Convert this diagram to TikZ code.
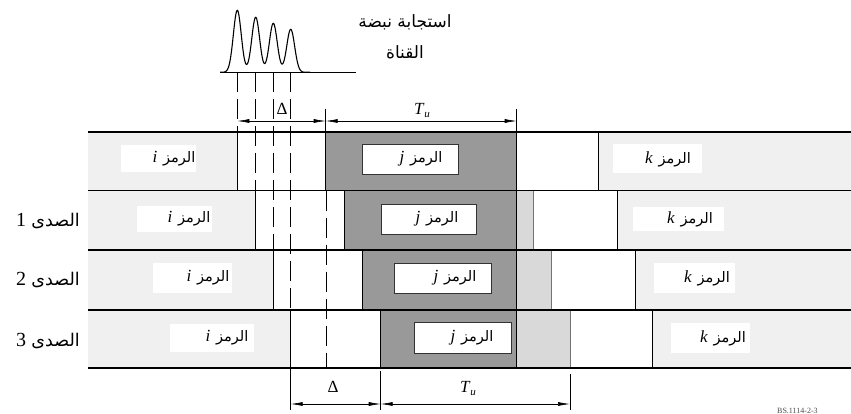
\documentclass[tikz,border=0pt]{standalone}
\usepackage{fontspec}
\setmainfont{Liberation Serif}
\newfontfamily\arabicfont[Script=Arabic]{DejaVu Sans}
\TeXXeTstate=1
\usetikzlibrary{arrows.meta}
\definecolor{lg}{HTML}{F0F0F0}
\definecolor{dg}{HTML}{999999}
\definecolor{mg}{HTML}{D9D9D9}
\tikzset{
  rowline/.style={line width=1.2pt,black},
  bound/.style={line width=0.7pt,black},
  gbound/.style={line width=0.7pt,black!55},
  dashv/.style={line width=0.7pt,dash pattern=on 20pt off 7pt},
  ext/.style={line width=0.6pt},
  dim/.style={line width=0.6pt,{Latex[length=12pt,width=4pt]}-{Latex[length=12pt,width=4pt]}},
  wbox/.style={fill=white,draw=none,inner sep=0pt},
  jbox/.style={fill=white,draw=black!80,line width=0.8pt,inner sep=0pt},
  lbl/.style={inner sep=0pt,font=\fontsize{14.5}{16}\selectfont},
  echo/.style={inner sep=0pt,font=\fontsize{17.5}{20}\selectfont},
  dimlbl/.style={inner sep=0pt,font=\fontsize{17}{18}\selectfont}
}
\newcommand{\ar}[1]{{\arabicfont\beginR #1\endR}}
\newcommand{\sym}[1]{{\fontsize{17}{18}\selectfont\textit{#1}}}
\newcommand{\tu}{\textit{T}\raisebox{-3pt}{\fontsize{11}{11}\selectfont\textit{u}}}
\begin{document}
\begin{tikzpicture}[x=1pt,y=-1pt]
\useasboundingbox (0,0) rectangle (851,414);
% rows
\foreach \r/\t/\b/\ie/\js/\me/\ks in {0/132/190.7/237.3/325.7/516.7/598.3,1/190.7/250/255.7/344/533.3/617.3,2/250/310/273.3/362.3/551.7/635.7,3/310/368/290.7/380.7/570/652.7}{
  \fill[lg] (88,\t) rectangle (\ie,\b);
  \fill[dg] (\js,\t) rectangle (516.7,\b);
  \fill[mg] (516.7,\t) rectangle (\me,\b);
  \fill[lg] (\ks,\t) rectangle (851,\b);
  \draw[bound] (\ie,\t) -- (\ie,\b);
  \draw[bound] (\js,\t) -- (\js,\b);
  \draw[gbound] (\me,\t) -- (\me,\b);
  \draw[bound] (\ks,\t) -- (\ks,\b);
}
\draw[line width=1pt] (516.7,109) -- (516.7,368);
% dashed echo lines
\draw[dashv] (237.3,72) -- (237.3,132);
\draw[dashv] (255.7,72) -- (255.7,190.7);
\draw[dashv] (273.3,72) -- (273.3,250);
\draw[dashv] (290.7,72) -- (290.7,310);
\draw[dashv] (326.7,190.7) -- (326.7,368);
% row lines
\foreach \y in {132,190.7,250,310,368}{\draw[rowline] (88,\y) -- (851,\y);}
% boxes and labels
\foreach \r/\yc/\ic/\iw/\ih/\it/\jc/\jw/\jh/\jt/\kc/\kw/\kh/\kt in {
  0/159/158.5/75/27/174/410/96/30/421/657.5/89/29/668,
  1/219/174.5/75/25/189/428.5/95/30/437/678.5/91/24/690,
  2/278/192.5/79/30/208/442.5/97/30/455/694.5/81/30/707,
  3/338/212/84/28/227/463.3/97/31/472/710.3/79/30/723}{
  \node[wbox,minimum width=\iw,minimum height=\ih] (bi\r) at (\ic,\yc) {};
  \node[lbl] (ti\r) at (\it,\yc) {\sym{i}\hspace{0.4em}\ar{الرمز}};
  \node[jbox,minimum width=\jw,minimum height=\jh] (bj\r) at (\jc,\yc) {};
  \node[lbl] (tj\r) at (\jt,\yc) {\sym{j}\hspace{0.4em}\ar{الرمز}};
  \node[wbox,minimum width=\kw,minimum height=\kh] (bk\r) at (\kc,\yc) {};
  \node[lbl] (tk\r) at (\kt,\yc) {\sym{k}\hspace{0.4em}\ar{الرمز}};
}
% echo labels
\node[echo] (e1) at (48,221) {{\fontsize{20}{20}\selectfont 1}\hspace{0.3em}\ar{الصدى}};
\node[echo] (e2) at (48,280) {{\fontsize{20}{20}\selectfont 2}\hspace{0.3em}\ar{الصدى}};
\node[echo] (e3) at (48,341) {{\fontsize{20}{20}\selectfont 3}\hspace{0.3em}\ar{الصدى}};
% pulse response
\draw[line width=1pt] (220,72.3) -- (356,72.3);
\draw[line width=1.1pt] plot[domain=220:310,samples=220,smooth] (\x,{72.3
  -62*exp(-min(30,((\x-237.3)/5.6)^2))
  -55*exp(-min(30,((\x-255.7)/5.6)^2))
  -49*exp(-min(30,((\x-273.3)/5.6)^2))
  -43*exp(-min(30,((\x-290.7)/5.6)^2))});
\node[inner sep=0pt,align=center,font=\fontsize{17}{31}\selectfont] (title) at (405,37) {\ar{استجابة نبضة}\\\ar{القناة}};
% top dimensions
\coordinate (ta) at (237.3,121);
\coordinate (tb) at (325.7,121);
\coordinate (tc) at (516.7,121);
\draw[ext] (325.7,109) -- (325.7,132);
\draw[dim] (ta) -- (tb);
\draw[dim] (tb) -- (tc);
\node[dimlbl] (d1) at (282,109) {Δ};
\node[dimlbl] (t1) at (422,111) {\tu};
% bottom dimensions
\coordinate (ba) at (290.7,404);
\coordinate (bb) at (380.7,404);
\coordinate (bc) at (570,404);
\draw[ext] (290.7,368) -- (290.7,410);
\draw[ext] (380.7,371) -- (380.7,410);
\draw[ext] (570,374) -- (570,410);
\draw[dim] (ba) -- (bb);
\draw[dim] (bb) -- (bc);
\node[dimlbl] (d2) at (333,387) {Δ};
\node[dimlbl] (t2) at (468,388) {\tu};
\node[inner sep=0pt,anchor=south west,font=\fontsize{8}{9}\selectfont,text=black!70] (ref) at (777,413.5) {BS.1114-2-3};
\end{tikzpicture}
\end{document}
